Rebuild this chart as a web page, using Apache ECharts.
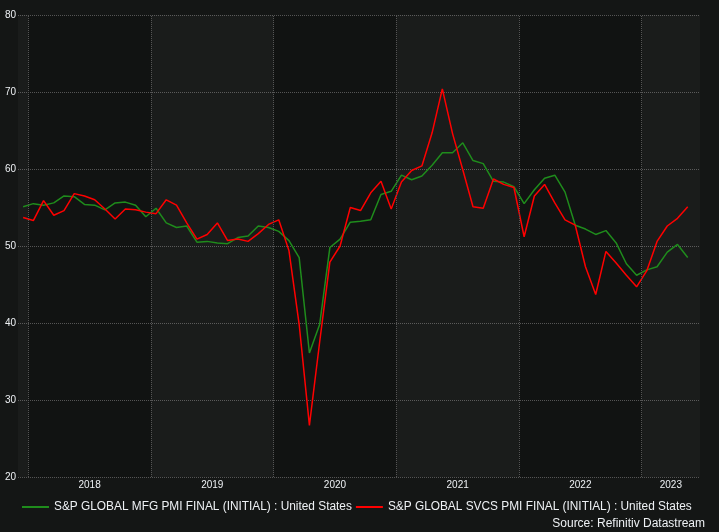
<!DOCTYPE html>
<html>
<head>
<meta charset="utf-8">
<script src="https://cdn.jsdelivr.net/npm/echarts@6/dist/echarts.min.js"></script>
<style>
html,body{margin:0;padding:0;background:#141615;}
#c{width:719px;height:532px;}
</style>
</head>
<body>
<div id="c"></div>
<script>
// Monthly readings, Dec 2017 .. May 2023
const startYear = 2017, startMonth = 12;
const mfgName = 'S&P GLOBAL MFG PMI FINAL (INITIAL) : United States';
const svcsName = 'S&P GLOBAL SVCS PMI FINAL (INITIAL) : United States';
const mfg = [
  55.1,
  55.5, 55.3, 55.6, 56.5, 56.4, 55.4, 55.3, 54.7, 55.6, 55.7, 55.3, 53.8,
  54.9, 53.0, 52.4, 52.6, 50.5, 50.6, 50.4, 50.3, 51.1, 51.3, 52.6, 52.4,
  51.9, 50.7, 48.5, 36.1, 39.8, 49.8, 50.9, 53.1, 53.2, 53.4, 56.7, 57.1,
  59.2, 58.6, 59.1, 60.5, 62.1, 62.1, 63.4, 61.1, 60.7, 58.4, 58.3, 57.7,
  55.5, 57.3, 58.8, 59.2, 57.0, 52.7, 52.2, 51.5, 52.0, 50.4, 47.7, 46.2,
  46.9, 47.3, 49.2, 50.2, 48.5
];
const svcs = [
  53.7,
  53.3, 55.9, 54.0, 54.6, 56.8, 56.5, 56.0, 54.8, 53.5, 54.8, 54.7, 54.4,
  54.2, 56.0, 55.3, 53.0, 50.9, 51.5, 53.0, 50.7, 50.9, 50.6, 51.6, 52.8,
  53.4, 49.4, 39.8, 26.7, 37.5, 47.9, 50.0, 55.0, 54.6, 56.9, 58.4, 54.8,
  58.3, 59.8, 60.4, 64.7, 70.4, 64.6, 59.9, 55.1, 54.9, 58.7, 58.0, 57.6,
  51.2, 56.5, 58.0, 55.6, 53.4, 52.7, 47.3, 43.7, 49.3, 47.8, 46.2, 44.7,
  46.8, 50.6, 52.6, 53.6, 55.1
];
const yearLabels = ['2018', '2019', '2020', '2021', '2022', '2023'];
const yTicks = [20, 30, 40, 50, 60, 70, 80];

// x axis in months since Jan 2018; each reading sits mid-month
const baseYear = 2018;
const offset = (startYear - baseYear) * 12 + (startMonth - 1);
const xMin = -1, xMax = 65.7;
const toX = i => offset + i + 0.5;
const mfgData = mfg.map((v, i) => [toX(i), v]);
const svcsData = svcs.map((v, i) => [toX(i), v]);

const bounds = yearLabels.map((y, k) => [k * 12, Math.min(k * 12 + 12, xMax)]);
const labelPos = bounds.map(b => (b[0] + b[1]) / 2);
const lightBands = [[{xAxis: xMin}, {xAxis: 0}]];
bounds.forEach((b, k) => { if (k % 2 === 1) lightBands.push([{xAxis: b[0]}, {xAxis: b[1]}]); });
const yearLines = bounds.map(b => ({xAxis: b[0]}));

const txt = '#eef1f4';
const chart = echarts.init(document.getElementById('c'));
chart.setOption({
  backgroundColor: '#141615',
  animation: false,
  textStyle: {fontFamily: 'Arial, "Liberation Sans", sans-serif'},
  grid: {left: 18, right: 19, top: 15, bottom: 55, show: true, backgroundColor: '#111312', borderWidth: 0},
  xAxis: {
    type: 'value', min: xMin, max: xMax,
    axisLine: {show: false}, axisTick: {show: false}, splitLine: {show: false},
    axisLabel: {
      customValues: labelPos,
      formatter: v => yearLabels[Math.floor(v / 12)],
      color: txt, fontSize: 10, margin: 3
    }
  },
  yAxis: {
    type: 'value', min: yTicks[0], max: yTicks[yTicks.length - 1], interval: 10,
    axisLine: {show: false}, axisTick: {show: false},
    axisLabel: {color: txt, fontSize: 10, margin: 2},
    splitLine: {show: true, lineStyle: {color: '#555', type: [1, 1], width: 1}}
  },
  legend: {
    left: 17, top: 496, itemWidth: 27, itemHeight: 2, itemGap: 4,
    icon: 'rect',
    textStyle: {color: txt, fontSize: 11.86},
    data: [mfgName, svcsName]
  },
  title: {
    text: 'Source: Refinitiv Datastream', right: 9, top: 513,
    textStyle: {color: txt, fontSize: 12, fontWeight: 'normal'}
  },
  series: [
    {
      name: mfgName, type: 'line', data: mfgData, symbol: 'none',
      lineStyle: {color: '#1f8c1c', width: 1.5}, itemStyle: {color: '#1f8c1c'},
      markArea: {silent: true, itemStyle: {color: 'rgba(255,255,255,0.04)'}, data: lightBands},
      markLine: {
        silent: true, symbol: ['none', 'none'], label: {show: false},
        lineStyle: {color: '#555', type: [1, 1], width: 1}, data: yearLines
      }
    },
    {
      name: svcsName, type: 'line', data: svcsData, symbol: 'none',
      lineStyle: {color: '#ff0000', width: 1.5}, itemStyle: {color: '#ff0000'}
    }
  ]
});
</script>
</body>
</html>
